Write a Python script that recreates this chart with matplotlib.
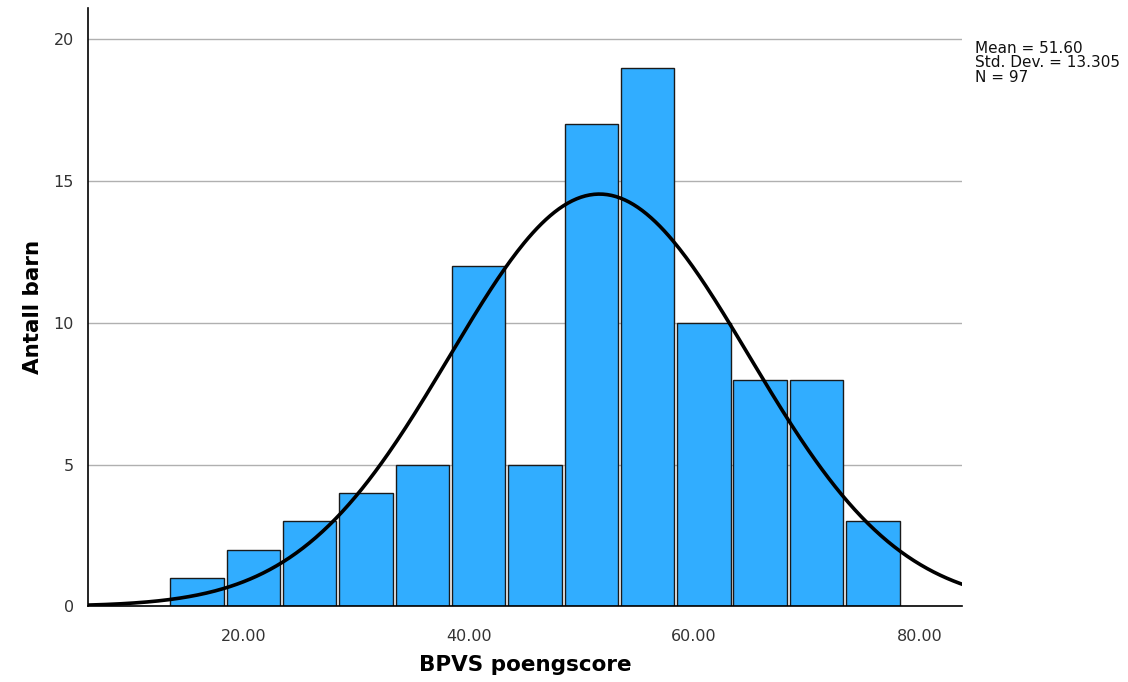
import numpy as np
import matplotlib
matplotlib.use('Agg')
import matplotlib.pyplot as plt

# histogram data
bin_starts = [13.5, 18.5, 23.5, 28.5, 33.5, 38.5, 43.5, 48.5, 53.5, 58.5, 63.5, 68.5, 73.5]
counts = [1, 2, 3, 4, 5, 12, 5, 17, 19, 10, 8, 8, 3]
bin_width = 5
mean = 51.60
std = 13.305
n = 97
x_ticks = [20, 40, 60, 80]
x_tick_labels = ["20.00", "40.00", "60.00", "80.00"]
y_ticks = [0, 5, 10, 15, 20]

fig = plt.figure(figsize=(11.28, 6.82), dpi=100)
ax = fig.add_axes([0.078, 0.111, 0.775, 0.877])

ax.set_axisbelow(True)
ax.yaxis.grid(True, color='#b0b0b0', linewidth=1.0)

ax.bar(bin_starts, counts, width=bin_width * 0.95, align='edge',
       color='#31adff', edgecolor='#1a1a1a', linewidth=1.0, zorder=2)

xlim = (6.2, 83.8)
xs = np.linspace(xlim[0], xlim[1], 400)
ys = n * bin_width * np.exp(-0.5 * ((xs - mean) / std) ** 2) / (std * np.sqrt(2 * np.pi))
ax.plot(xs, ys, color='black', linewidth=2.6, zorder=3)

ax.set_xlim(*xlim)
ax.set_ylim(0, 21.1)
ax.set_xticks(x_ticks)
ax.set_xticklabels(x_tick_labels)
ax.set_yticks(y_ticks)
ax.tick_params(axis='both', length=0, labelsize=11.5, colors='#333333')
ax.tick_params(axis='x', pad=16)
ax.tick_params(axis='y', pad=10)

for s in ['top', 'right']:
    ax.spines[s].set_visible(False)
for s in ['left', 'bottom']:
    ax.spines[s].set_color('black')
    ax.spines[s].set_linewidth(1.2)

ax.set_xlabel("BPVS poengscore", fontsize=15.5, fontweight='bold', labelpad=8)
ax.set_ylabel("Antall barn", fontsize=15.5, fontweight='bold', labelpad=8)

fig.text(0.864, 0.94, "Mean = 51.60\nStd. Dev. = 13.305\nN = 97",
         fontsize=11, va='top', ha='left', linespacing=0.95, color='#111111')

fig.savefig("out.png", dpi=100)
